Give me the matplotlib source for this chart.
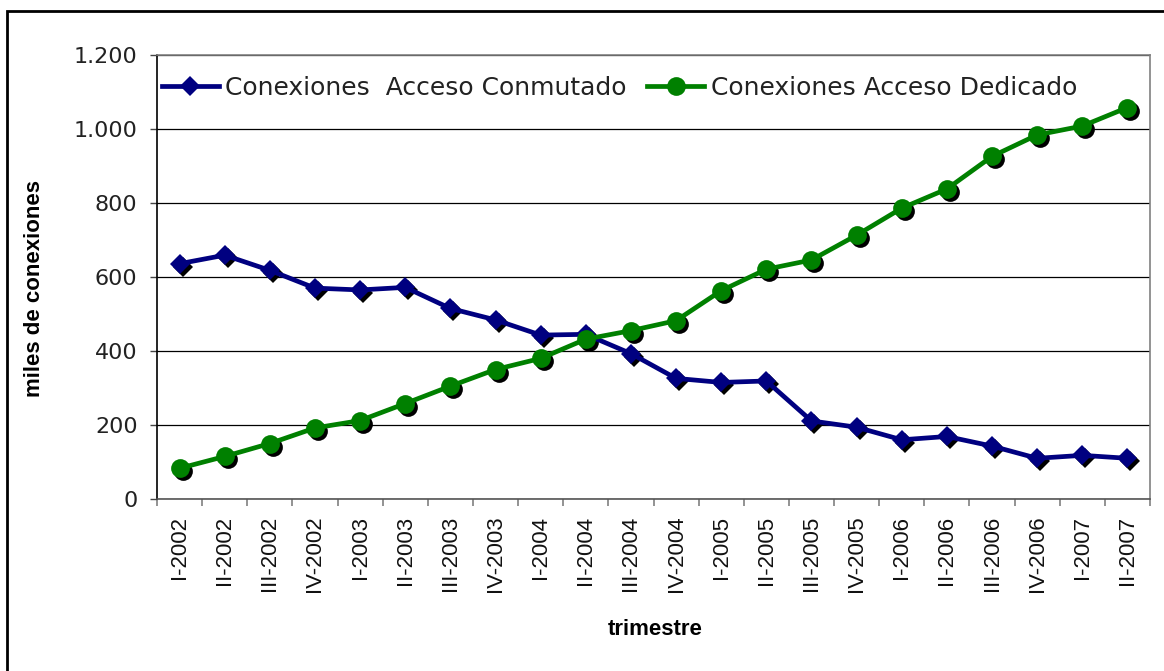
import matplotlib
matplotlib.use("Agg")
import matplotlib.pyplot as plt
import matplotlib.transforms as mtransforms
from matplotlib.patches import Rectangle
from matplotlib.ticker import FixedLocator, FuncFormatter, MultipleLocator

# Quarterly periods
trimestres = [
    "I-2002", "II-2002", "III-2002", "IV-2002",
    "I-2003", "II-2003", "III-2003", "IV-2003",
    "I-2004", "II-2004", "III-2004", "IV-2004",
    "I-2005", "II-2005", "III-2005", "IV-2005",
    "I-2006", "II-2006", "III-2006", "IV-2006",
    "I-2007", "II-2007",
]

# Thousands of connections per quarter
conmutado = [636, 659, 618, 570, 565, 572, 515, 484,
             443, 445, 393, 326, 315, 319, 211, 194,
             160, 169, 143, 110, 118, 110]
dedicado = [83, 115, 150, 192, 212, 258, 305, 350,
            380, 432, 455, 482, 563, 621, 646, 713,
            786, 838, 926, 984, 1008, 1058]

serie_conmutado = "Conexiones  Acceso Conmutado"
serie_dedicado = "Conexiones Acceso Dedicado"

AZUL = "#000080"
VERDE = "#008000"

W, H = 1164, 671
fig = plt.figure(figsize=(W / 100, H / 100), dpi=100)
fig.patch.set_facecolor("white")

# plot area in pixels
x0, x1, y_top, y_bot = 157, 1150, 55, 499
ax = fig.add_axes([x0 / W, 1 - y_bot / H, (x1 - x0) / W, (y_bot - y_top) / H])

x = list(range(len(trimestres)))

# drop shadow beneath the markers
sombra = mtransforms.offset_copy(ax.transData, fig=fig, x=3, y=-3, units="dots")
ax.plot(x, conmutado, linestyle="none", marker="D", markersize=10.5,
        color="black", markeredgewidth=0, transform=sombra, zorder=3)
ax.plot(x, dedicado, linestyle="none", marker="o", markersize=13.5,
        color="black", markeredgewidth=0, transform=sombra, zorder=3)

ax.plot(x, conmutado, color=AZUL, lw=3.4, marker="D", markersize=10.5,
        markeredgewidth=0, label=serie_conmutado, zorder=4)
ax.plot(x, dedicado, color=VERDE, lw=3.4, marker="o", markersize=13.5,
        markeredgewidth=0, label=serie_dedicado, zorder=4)

ax.set_xlim(-0.5, len(trimestres) - 0.5)
ax.set_ylim(0, 1200)

# y axis
ax.yaxis.set_major_locator(MultipleLocator(200))
ax.yaxis.set_major_formatter(
    FuncFormatter(lambda v, p: f"{int(v):,}".replace(",", ".")))
ax.tick_params(axis="y", direction="out", length=5, width=1, color="#444444",
               pad=9, labelsize=16, labelcolor="#222222")
for t in ax.get_yticklabels():
    t.set_fontfamily("DejaVu Sans")

# x axis: labels at the centres, ticks at the boundaries
ax.set_xticks(x)
ax.set_xticklabels(trimestres, rotation=90, fontsize=16,
                   fontfamily="Liberation Sans", color="#111111")
ax.xaxis.set_minor_locator(FixedLocator([i - 0.5 for i in range(len(trimestres) + 1)]))
ax.tick_params(axis="x", which="major", length=0, pad=12)
ax.tick_params(axis="x", which="minor", direction="out", length=5, width=1.2,
               color="#808080")

ax.yaxis.grid(True, color="black", lw=0.9)
ax.set_axisbelow(True)

ax.spines["left"].set_color("black")
ax.spines["bottom"].set_color("#555555")
ax.spines["top"].set_color("#808080")
ax.spines["right"].set_color("#808080")
for s in ax.spines.values():
    s.set_linewidth(1.2)

ax.set_xlabel("trimestre", fontsize=16, fontweight="bold",
              fontfamily="Liberation Sans")
ax.xaxis.set_label_coords(0.5015, -0.295)
ax.xaxis.label.set_va("center")
ax.set_ylabel("miles de conexiones", fontsize=16, fontweight="bold",
              fontfamily="Liberation Sans")
ax.yaxis.set_label_coords(-0.123, 0.475)
ax.yaxis.label.set_va("center")

leg = ax.legend(loc="center left", bbox_to_anchor=(0.0047, 0.9257), ncol=2,
                frameon=False, borderpad=0, borderaxespad=0,
                handlelength=2.3, handletextpad=0.25, columnspacing=0.8,
                prop={"family": "DejaVu Sans", "size": 18})
for t in leg.get_texts():
    t.set_color("#222222")

# outer frame of the figure
fig.patches.append(Rectangle((6.5 / W, -0.1), 1.2, 1 - 11 / H + 0.1,
                             transform=fig.transFigure, fill=False,
                             edgecolor="black", lw=2, zorder=10))

fig.savefig("out.png", dpi=100)
